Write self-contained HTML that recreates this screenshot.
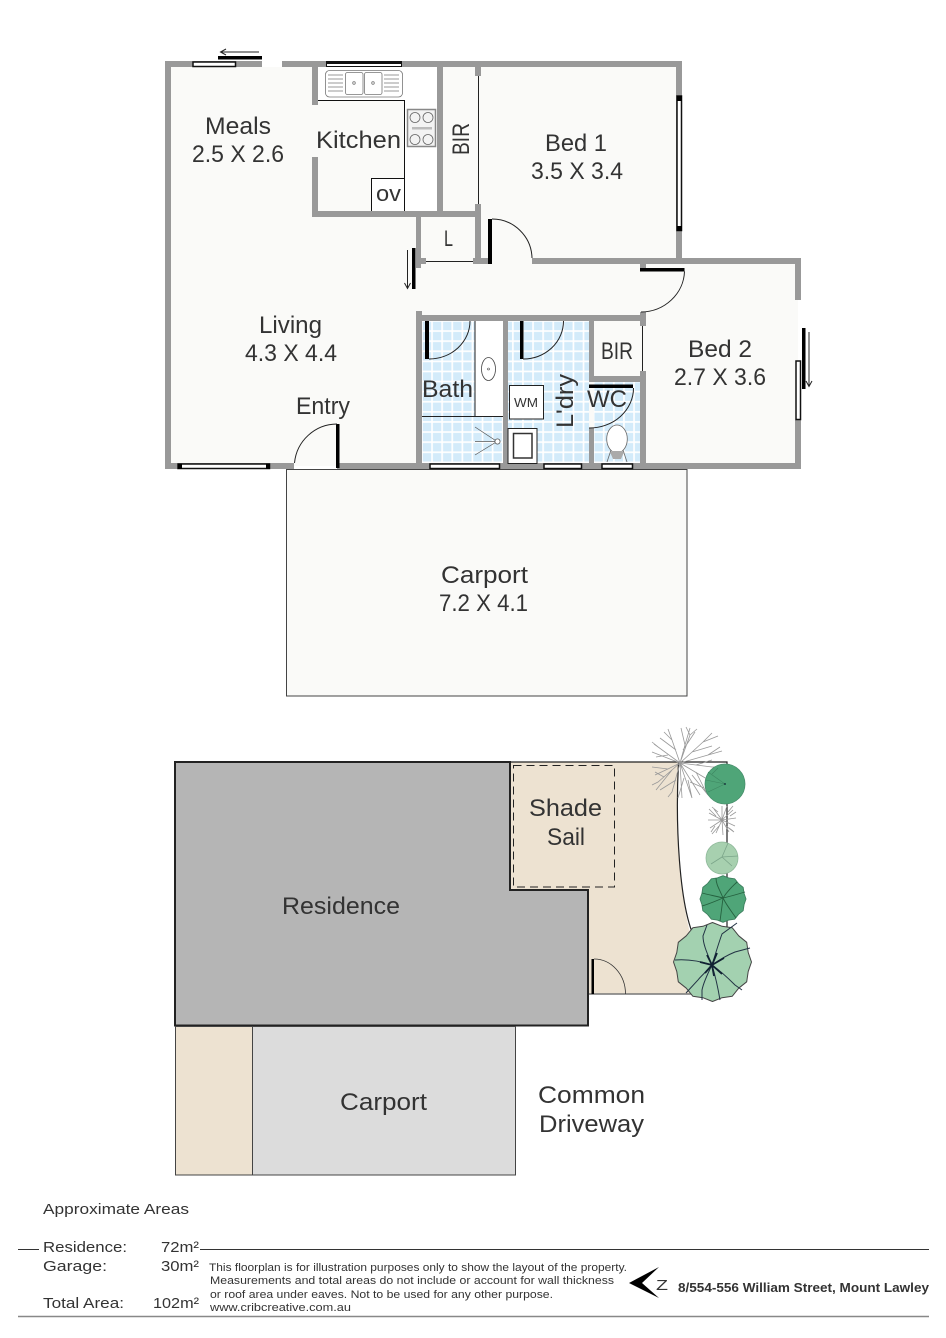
<!DOCTYPE html>
<html><head><meta charset="utf-8"><style>
html,body{margin:0;padding:0;background:#fff}
svg{display:block}
text{font-family:"Liberation Sans",sans-serif;fill:#333}
.l{font-size:24px}
</style></head><body>
<svg width="946" height="1338" viewBox="0 0 946 1338" xmlns="http://www.w3.org/2000/svg">
<defs>
<pattern id="t" x="422" y="321" width="10.1" height="10.1" patternUnits="userSpaceOnUse">
<rect width="10.1" height="10.1" fill="#fff"/><rect x="0.8" y="0.8" width="8.4" height="8.4" fill="#d3ebfa"/>
</pattern>
<polygon id="sc" points="751.5,962 748.2,971.6 746.7,981.8 738.7,988.2 732.3,996.2 722.1,997.7 712.5,1001.5 702.9,997.7 692.8,996.2 686.3,988.2 678.3,981.8 676.8,971.6 673.5,962 676.8,952.4 678.3,942.3 686.3,935.8 692.8,927.8 702.9,926.3 712.5,922.5 722.1,926.3 732.3,927.8 738.7,935.8 746.7,942.3 748.2,952.4" stroke-linejoin="round"/>
</defs>
<rect width="946" height="1338" fill="#fff"/>

<!-- interior floors -->
<polygon points="168,64 679,64 679,261 798,261 798,466 168,466" fill="#fafaf8"/>
<rect x="262" y="60" width="20" height="7" fill="#fff"/>
<rect x="798" y="300" width="4" height="60" fill="#fff"/>
<rect x="286.500" y="469.500" width="400.500" height="226.500" fill="#fafaf8" stroke="#444" stroke-width="1"/>
<!-- kitchen benches -->
<rect x="318" y="67" width="120" height="33" fill="#fff"/>
<rect x="404.500" y="67" width="33.500" height="145" fill="#fff"/>
<rect x="371.500" y="178.500" width="33" height="33.500" fill="#fff"/>
<path d="M318 100.500H404.500V212M371.500 212V178.500H404.500" fill="none" stroke="#111" stroke-width="1"/>
<!-- tiles -->
<rect x="422" y="321" width="81" height="142" fill="url(#t)"/>
<rect x="508" y="321" width="81" height="142" fill="url(#t)"/>
<rect x="594" y="382" width="47" height="81" fill="url(#t)"/>
<rect x="475" y="321" width="28" height="95" fill="#fff"/>
<path d="M475 321V416M422 416.500H503" fill="none" stroke="#222" stroke-width="1"/>

<!-- walls -->
<g fill="#999">
<rect x="165" y="61" width="6" height="408"/>
<rect x="165" y="61" width="97" height="6"/>
<rect x="282" y="61" width="400" height="6"/>
<rect x="676" y="61" width="6" height="203"/>
<rect x="532" y="258" width="269" height="6"/>
<rect x="795" y="258" width="6" height="42"/>
<rect x="795" y="420" width="6" height="49"/>
<rect x="165" y="463" width="129" height="6"/>
<rect x="337" y="463" width="464" height="6"/>
<rect x="312" y="67" width="6" height="38"/>
<rect x="312" y="157" width="6" height="60"/>
<rect x="312" y="211" width="169" height="6"/>
<rect x="437" y="67" width="6" height="145"/>
<rect x="475" y="67" width="6" height="9"/>
<rect x="475" y="204" width="6" height="60"/>
<rect x="416" y="217" width="5" height="51"/>
<rect x="416" y="258" width="10" height="6"/>
<rect x="473" y="258" width="19" height="6"/>
<rect x="416" y="311" width="6" height="158"/>
<rect x="416" y="315" width="230" height="6"/>
<rect x="640" y="312" width="6" height="14"/>
<rect x="640" y="371" width="6" height="98"/>
<rect x="640" y="264" width="6" height="4"/>
<rect x="503" y="321" width="5" height="142"/>
<rect x="589" y="321" width="5" height="61"/>
<rect x="589" y="376" width="52" height="6"/>
<rect x="589" y="428" width="5" height="35"/>
</g>
<path d="M478.500 76V204M426 261.500H473M642.500 326V371" stroke="#222" stroke-width="1" fill="none"/>

<!-- windows -->
<g stroke="#111" stroke-width="1.500" fill="#fff">
<rect x="193" y="62" width="42.500" height="4.500"/>
<rect x="178" y="464" width="91.500" height="4.500"/>
<rect x="430" y="464" width="69.500" height="4.500"/>
<rect x="544" y="464" width="37.500" height="4.500"/>
<rect x="602" y="464" width="30.500" height="4.500"/>
<rect x="796" y="361" width="4.500" height="58.500"/>
<rect x="677" y="96" width="4.500" height="134.500"/>
</g>
<rect x="326.500" y="61.500" width="75" height="5" fill="#fff" stroke="#111" stroke-width="1"/>
<rect x="326.500" y="61.500" width="75" height="2.500" fill="#111"/>
<rect x="677" y="96" width="5" height="5" fill="#000"/><rect x="677" y="226" width="5" height="5" fill="#000"/>
<rect x="178" y="463.500" width="4" height="5.500" fill="#000"/><rect x="266" y="463.500" width="4" height="5.500" fill="#000"/>

<!-- doors -->
<g fill="#000">
<rect x="218" y="56" width="44" height="3.500"/>
<rect x="336" y="424" width="3.500" height="44"/>
<rect x="488" y="219" width="4" height="45"/>
<rect x="412" y="248" width="3.500" height="41"/>
<rect x="640" y="268" width="44.500" height="3.500"/>
<rect x="802" y="328" width="3.500" height="61"/>
<rect x="425" y="321" width="4" height="38"/>
<rect x="520" y="321" width="3.500" height="38"/>
<rect x="589" y="384.500" width="44" height="3.500"/>
</g>
<g fill="none" stroke="#222" stroke-width="1">
<path d="M337 424A43 43 0 0 0 294.500 463"/>
<path d="M492 219A40 40 0 0 1 532 258"/>
<path d="M684.500 271.500A44 42 0 0 1 641 312"/>
<path d="M429 359A41 38 0 0 0 470 321"/>
<path d="M523 359A40 38 0 0 0 563.500 321"/>
<path d="M633.500 388A44 40 0 0 1 589 428"/>
<path d="M259 52H221M226 49L220.500 52L226 55" />
<path d="M407.500 250V288M404.500 283L407.500 288.500L410.500 283"/>
<path d="M809 332V386M806 381L809 386.500L812 381"/>
</g>

<!-- sink -->
<g fill="none" stroke="#777" stroke-width="0.800">
<rect x="325.500" y="70.500" width="77" height="26.500" rx="4"/>
<rect x="345.500" y="72.500" width="17.500" height="22" rx="2"/>
<rect x="364.500" y="72.500" width="17.500" height="22" rx="2"/>
<circle cx="354" cy="83" r="1.300"/><circle cx="373" cy="83" r="1.300"/>
<path d="M328 75H343M328 79H343M328 83H343M328 87H343M328 91H343M384 75H399M384 79H399M384 83H399M384 87H399M384 91H399"/>
</g>
<!-- cooktop -->
<rect x="407.500" y="109.500" width="28" height="37" fill="#f3f3f3" stroke="#888" stroke-width="1.500"/>
<g fill="none" stroke="#666" stroke-width="0.800">
<circle cx="415" cy="117.500" r="5"/><circle cx="428" cy="117.500" r="5"/>
<circle cx="415" cy="139.500" r="5"/><circle cx="428" cy="139.500" r="5"/>
</g>
<rect x="412" y="127" width="20" height="2.500" fill="#bbb"/>
<!-- bathroom fixtures -->
<ellipse cx="488.500" cy="369" rx="7" ry="11.500" fill="#fff" stroke="#444" stroke-width="0.800"/>
<circle cx="488.500" cy="369" r="1" fill="none" stroke="#444" stroke-width="0.600"/>
<path d="M475 427L497 441.500L475 455M475 441.500H497" fill="none" stroke="#555" stroke-width="0.700"/>
<circle cx="497.500" cy="441.500" r="2.600" fill="#fff" stroke="#555" stroke-width="0.800"/>
<rect x="509.500" y="385.500" width="34" height="33.500" fill="#fff" stroke="#222" stroke-width="1"/>
<rect x="508" y="428.500" width="29" height="35" fill="#fff" stroke="#222" stroke-width="1"/>
<rect x="513.500" y="433.500" width="18.500" height="24.500" fill="#fff" stroke="#333" stroke-width="1.500"/>
<!-- toilet -->
<path d="M611 450L607 462M623 450L627 462" stroke="#666" stroke-width="0.800" fill="none"/>
<polygon points="610,452 624,452 621,459 613,459" fill="#aaa"/>
<ellipse cx="617" cy="439" rx="10.300" ry="14" fill="#fff" stroke="#666" stroke-width="0.800"/>
<polygon points="611,451 623,451 621,458 613,458" fill="#aaa"/>

<!-- SITE PLAN -->
<path d="M510 762H726V994H588V890H510Z" fill="#ede2d1"/>
<path d="M678.500 762C675 830 680 900 692 940C696 955 704 975 712 994H760V762Z" fill="#fff"/>
<path d="M510 762H727V930M678.500 762C675 830 680 900 692 932" fill="none" stroke="#222" stroke-width="1.200"/>
<path d="M588 994H700" stroke="#777" stroke-width="1.500"/>
<polygon points="175,762 510,762 510,890 588,890 588,1025.500 175,1025.500" fill="#b5b5b5" stroke="#222" stroke-width="2"/>
<rect x="591.500" y="959" width="2.500" height="35" fill="#000"/>
<path d="M594 959A31.500 35 0 0 1 625.500 994" fill="none" stroke="#333" stroke-width="0.800"/>
<rect x="513.500" y="765.500" width="101" height="121.500" fill="none" stroke="#222" stroke-width="1" stroke-dasharray="8 5"/>
<rect x="175.500" y="1026.500" width="77" height="148.500" fill="#ede2d1" stroke="#444" stroke-width="1"/>
<rect x="252.500" y="1026.500" width="263" height="148.500" fill="#dcdcdc" stroke="#444" stroke-width="1"/>

<!-- trees -->
<g fill="none" stroke="#999" stroke-width="0.800">
<path d="M680 763L672 740L668 729M672 740L664 732M676 750L660 738M680 763L654 744M662 750L652 742M668 755L656 757M680 763L652 752"/>
<path d="M680 763L685 745L681 728M685 745L690 728M683 750L695 732M680 763L690 735L686 727M690 735L697 729M680 763L703 742L712 733M703 742L718 736M692 752L712 746M680 763L722 751M708 755L720 747"/>
<path d="M680 763L712 767L726 767M696 765L712 760M680 763L668 769L652 767M670 768L655 775M680 763L658 782L652 785M664 777L655 772M680 763L672 792L668 797M676 780L660 790M672 770L656 790"/>
<path d="M680 763L682 798M680 763L692 798L688 780M680 763L700 795M690 782L704 788M680 763L712 782M684 778L678 798M692 775L708 795M696 772L706 792"/>
<path d="M722 820L722 806M722 820L714 809M722 820L709 813M722 820L708 820M722 820L710 828M722 820L716 833M722 820L723 835M722 820L729 832M722 820L735 826M722 820L736 818M722 820L733 810M722 820L727 806M718 812L712 807M728 812L733 806M715 826L711 832M729 828L733 831M719 826L712 834M726 826L734 832M716 816L709 809M730 816L736 812"/>
</g>
<circle cx="725" cy="784" r="20" fill="#4fa578" stroke="#488f6c" stroke-width="0.800"/>
<path d="M725 784L708 772M725 784L706 780M725 784L708 792M712 774L718 768" stroke="#3d8660" stroke-width="0.600" fill="none"/>
<circle cx="725" cy="784" r="0.900" fill="#123"/>
<circle cx="722" cy="858" r="16" fill="#a7d0af" stroke="#8fb99a" stroke-width="0.800"/>
<path d="M722 857L728 843M722 857L711 864M722 857L732 866M722 857L738 856" stroke="#7ba589" stroke-width="0.800" fill="none"/>
<use href="#sc" transform="translate(723 899) scale(.59) translate(-712.5 -962)" fill="#4fa578" stroke="#3d7f5e" stroke-width="1.500"/>
<path d="M723 898C720 890 716 885 716 878M723 898C728 890 733 886 737 882M723 898C732 896 738 894 745 892M723 898C727 906 732 912 736 918M723 898C722 906 721 914 720 921M723 898C716 901 709 904 702 906M723 898C716 896 709 895 702 893" stroke="#25613f" stroke-width="0.900" fill="none"/>
<use href="#sc" fill="#a3d1b0" stroke="#444" stroke-width="1"/>
<path d="M712 965C708 955 703 945 703 936L707 925M712 965C716 952 719 942 722 934L737 923M712 965C722 958 730 954 735 952L750 948M712 965C722 972 730 980 735 985L742 990M712 965C715 975 718 988 720 1000M712 965C706 972 700 977 698 980L686 993M712 965C700 961 688 959 675 960M712 965C707 975 703 985 702 990L702 1000" stroke="#234" stroke-width="1" fill="none"/>
<path d="M712 965L707 955M712 965L717 953M712 965L724 958M712 965L722 974M712 965L714 976M712 965L705 973M712 965L700 962" stroke="#123" stroke-width="1.800" fill="none"/>

<!-- Floor labels -->
<g>
<text class="l" x="205" y="134" textLength="66" lengthAdjust="spacingAndGlyphs">Meals</text>
<text class="l" x="192" y="162" textLength="92" lengthAdjust="spacingAndGlyphs">2.5 X 2.6</text>
<text class="l" x="316" y="148" textLength="85" lengthAdjust="spacingAndGlyphs">Kitchen</text>
<text class="l" transform="translate(469 155) rotate(-90)" textLength="32" lengthAdjust="spacingAndGlyphs">BIR</text>
<text class="l" x="545" y="151" textLength="62" lengthAdjust="spacingAndGlyphs">Bed 1</text>
<text class="l" x="531" y="179" textLength="92" lengthAdjust="spacingAndGlyphs">3.5 X 3.4</text>
<text class="l" x="259" y="333" textLength="63" lengthAdjust="spacingAndGlyphs">Living</text>
<text class="l" x="245" y="361" textLength="92" lengthAdjust="spacingAndGlyphs">4.3 X 4.4</text>
<text class="l" x="296" y="414" textLength="54" lengthAdjust="spacingAndGlyphs">Entry</text>
<text x="444" y="246" style="font-size:22px" textLength="9" lengthAdjust="spacingAndGlyphs">L</text>
<text x="376" y="201" style="font-size:22px" textLength="25" lengthAdjust="spacingAndGlyphs">ov</text>
<text class="l" x="422" y="397" textLength="51" lengthAdjust="spacingAndGlyphs">Bath</text>
<text class="l" x="601" y="359" textLength="32" lengthAdjust="spacingAndGlyphs">BIR</text>
<text class="l" transform="translate(573 428) rotate(-90)" textLength="54" lengthAdjust="spacingAndGlyphs">L'dry</text>
<text class="l" x="587" y="407" textLength="40" lengthAdjust="spacingAndGlyphs">WC</text>
<text x="514" y="407" style="font-size:13px" textLength="24" lengthAdjust="spacingAndGlyphs">WM</text>
<text class="l" x="688" y="357" textLength="64" lengthAdjust="spacingAndGlyphs">Bed 2</text>
<text class="l" x="674" y="385" textLength="92" lengthAdjust="spacingAndGlyphs">2.7 X 3.6</text>
<text class="l" x="441" y="583" textLength="87" lengthAdjust="spacingAndGlyphs">Carport</text>
<text class="l" x="439" y="611" textLength="89" lengthAdjust="spacingAndGlyphs">7.2 X 4.1</text>
<text class="l" x="529" y="816" textLength="73" lengthAdjust="spacingAndGlyphs">Shade</text>
<text class="l" x="547" y="845" textLength="38" lengthAdjust="spacingAndGlyphs">Sail</text>
<text class="l" x="282" y="914" textLength="118" lengthAdjust="spacingAndGlyphs">Residence</text>
<text class="l" x="340" y="1110" textLength="87" lengthAdjust="spacingAndGlyphs">Carport</text>
<text class="l" x="538" y="1103" textLength="107" lengthAdjust="spacingAndGlyphs">Common</text>
<text class="l" x="539" y="1132" textLength="105" lengthAdjust="spacingAndGlyphs">Driveway</text>
</g>

<!-- Footer -->
<path d="M18 1249.500H39M200 1249.500H929" stroke="#333" stroke-width="1"/>
<path d="M18 1316.500H929" stroke="#888" stroke-width="1.500"/>
<g>
<text x="43" y="1214" style="font-size:15px" textLength="146" lengthAdjust="spacingAndGlyphs">Approximate Areas</text>
<text x="43" y="1252" style="font-size:15px" textLength="84" lengthAdjust="spacingAndGlyphs">Residence:</text>
<text x="161" y="1252" style="font-size:15px" textLength="38" lengthAdjust="spacingAndGlyphs">72m²</text>
<text x="43" y="1271" style="font-size:15px" textLength="64" lengthAdjust="spacingAndGlyphs">Garage:</text>
<text x="161" y="1271" style="font-size:15px" textLength="38" lengthAdjust="spacingAndGlyphs">30m²</text>
<text x="43" y="1308" style="font-size:15px" textLength="81" lengthAdjust="spacingAndGlyphs">Total Area:</text>
<text x="153" y="1308" style="font-size:15px" textLength="46" lengthAdjust="spacingAndGlyphs">102m²</text>
</g>
<text x="209" y="1271" style="font-size:11px" textLength="418" lengthAdjust="spacingAndGlyphs">This floorplan is for illustration purposes only to show the layout of the property.</text>
<text x="210" y="1284" style="font-size:11px" textLength="404" lengthAdjust="spacingAndGlyphs">Measurements and total areas do not include or account for wall thickness</text>
<text x="210" y="1298" style="font-size:11px" textLength="343" lengthAdjust="spacingAndGlyphs">or roof area under eaves. Not to be used for any other purpose.</text>
<text x="210" y="1311" style="font-size:11px" textLength="141" lengthAdjust="spacingAndGlyphs">www.cribcreative.com.au</text>
<polygon points="629,1283 659,1267 642,1283 659,1298" fill="#000"/>
<text x="656" y="1290" style="font-size:15px" textLength="12" lengthAdjust="spacingAndGlyphs">Z</text>
<text x="678" y="1292" style="font-size:12.500px;font-weight:bold" textLength="251" lengthAdjust="spacingAndGlyphs">8/554-556 William Street, Mount Lawley</text>
</svg>
</body></html>
